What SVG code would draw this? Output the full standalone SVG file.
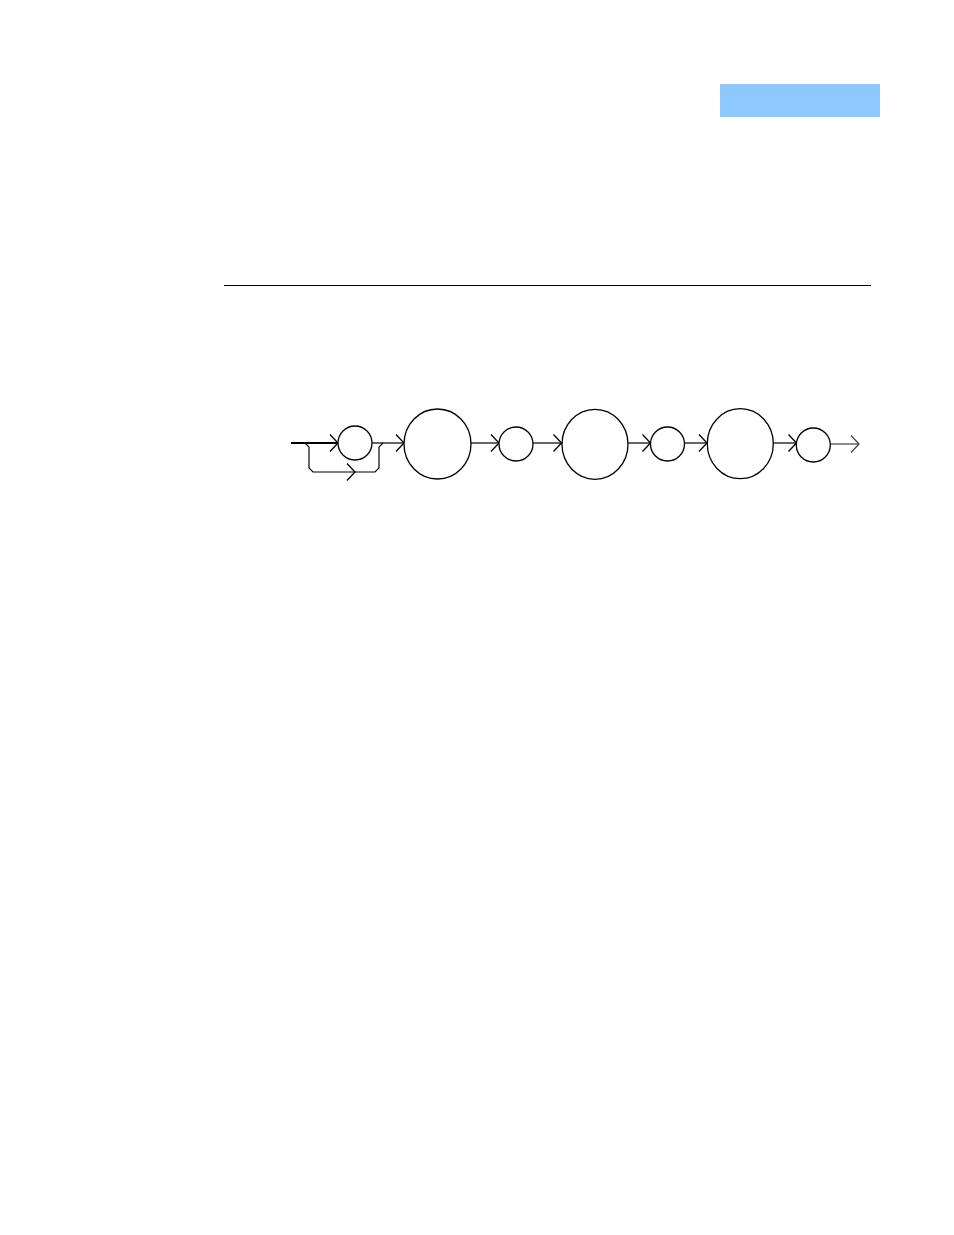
<svg xmlns="http://www.w3.org/2000/svg" width="954" height="1235" viewBox="0 0 954 1235">
<defs>
<style>
.ln{stroke:#000;stroke-width:1.2;fill:none}
.nd{stroke:#000;stroke-width:1.3;fill:#fff}
</style>
<marker id="chev" viewBox="0 0 10 20" refX="9" refY="9.5" markerWidth="10" markerHeight="20" markerUnits="userSpaceOnUse" orient="auto">
<path d="M1,1 L9,9.5 L1,18" fill="none" stroke="#000" stroke-width="1.3"/>
</marker>
<marker id="chevg" viewBox="0 0 10 20" refX="9" refY="9.5" markerWidth="10" markerHeight="20" markerUnits="userSpaceOnUse" orient="auto">
<path d="M1,1 L9,9.5 L1,18" fill="none" stroke="#444" stroke-width="1.3"/>
</marker>
</defs>
<rect id="header-bar" x="720" y="84" width="160" height="33" fill="#8DC8FF"/>
<line id="rule" x1="224" y1="285.5" x2="871" y2="285.5" stroke="#000" stroke-width="1"/>
<g id="connectors">
<path d="M291,443 L338,443" class="ln" stroke-width="2" style="stroke-width:2" marker-end="url(#chev)"/>
<path d="M305,443 L309,447 L309,468 L313,472 L355,472" class="ln" marker-end="url(#chev)"/>
<path d="M355,472 L375,472 L379,468 L379,447 L383,443" class="ln"/>
<path d="M372,443 L404,443" class="ln" marker-end="url(#chev)"/>
<path d="M471,443 L499,443" class="ln" marker-end="url(#chev)"/>
<path d="M533,443 L561.5,443" class="ln" marker-end="url(#chev)"/>
<path d="M628,443 L650.5,443" class="ln" marker-end="url(#chev)"/>
<path d="M684,443 L707,443" class="ln" marker-end="url(#chev)"/>
<path d="M773.5,443 L796.5,443" class="ln" marker-end="url(#chev)"/>
<path d="M830,444 L859,444" class="ln" style="stroke:#444" marker-end="url(#chevg)"/>
</g>
<g id="node1"><circle cx="355" cy="443" r="17" class="nd"/></g>
<g id="node2"><ellipse cx="437.5" cy="444" rx="33.5" ry="35" class="nd"/></g>
<g id="node3"><circle cx="516" cy="444" r="17" class="nd"/></g>
<g id="node4"><ellipse cx="595" cy="444.3" rx="33" ry="35" class="nd"/></g>
<g id="node5"><circle cx="667.5" cy="444" r="17" class="nd"/></g>
<g id="node6"><ellipse cx="740.3" cy="443.7" rx="33" ry="35" class="nd"/></g>
<g id="node7"><circle cx="813.3" cy="445" r="17" class="nd"/></g>
</svg>
